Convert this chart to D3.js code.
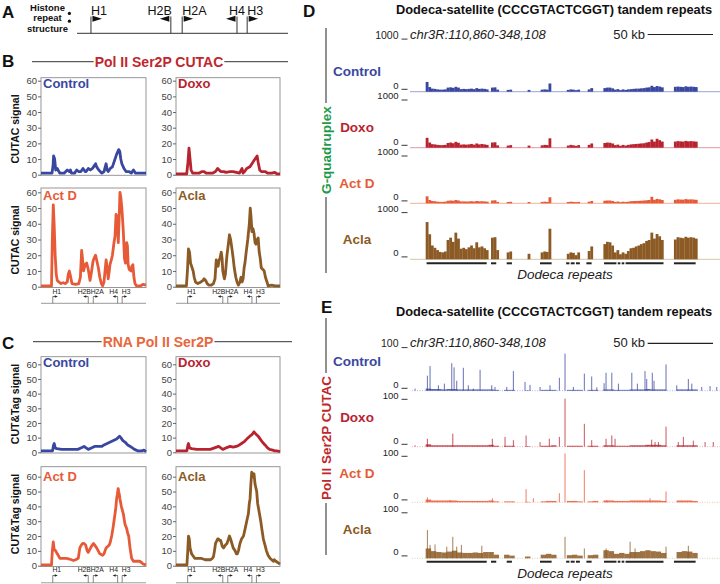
<!DOCTYPE html>
<html><head><meta charset="utf-8">
<script src="https://cdn.jsdelivr.net/npm/d3@7/dist/d3.min.js"></script>
<style>
html,body{margin:0;padding:0;background:#fff;}
svg{display:block;font-family:"Liberation Sans",Arial,Helvetica,sans-serif;}
</style></head><body>
<svg id="fig" width="720" height="584"></svg>
<script>
// ===================== DATA =====================
const trackNames = ["Control", "Doxo", "Act D", "Acla"];
const histoneGenes = ["H1", "H2B", "H2A", "H4", "H3"];
const histonePos = [11.2, 45, 49.8, 73, 77.3];      // position along one histone repeat (0-100)
const histoneDir = [1, -1, 1, -1, 1];               // transcription direction
const signalTicks = [0, 10, 20, 30, 40, 50, 60];

// B: Pol II Ser2P CUTAC signal  [position along repeat, signal]
const bControl = [[0,1],[10.5,1],[11.5,6],[12,12],[13,10],[14,3],[15.5,4],[17,2],[18,1],[22,1],[25,3],[27,2],[28,3],[29,1],[32,1],[34,3],[36,2],[38,2],[40,4],[42,2],[43,2],[45,4],[47,3],[49,4],[50,5],[52,7],[53,5],[55,3],[58,1],[60,2],[62,7],[63,3],[64,2],[66,4],[68,5],[70,9],[72,13],[74,16],[75,15],[76,10],[77,7],[79,4],[81,2],[84,2],[86,1],[88,3],[89,2],[90,1],[100,1]];
const bDoxo = [[0,0.5],[10.3,0.5],[11.5,8],[12.5,17],[13.5,10],[14.5,3],[16,1],[22,1],[25,2],[27,2],[29,1],[35,1],[38,2],[40,4],[41.5,3],[43,2],[46,2],[48,1.5],[52,2],[55,2],[58,1.5],[61,1],[63.5,4],[64.5,1],[66,2],[68,4],[71,5],[73,7],[75,9],[77,11],[78,12],[79,8],[80.5,3],[82,2],[86,2],[88,1],[92,1],[95,1.5],[97,0.5],[100,0.5]];
const bActD = [[0,0.5],[10,0.5],[10.8,30],[11.7,52],[12.5,40],[13.5,20],[14.5,8],[15.5,4],[17,3],[19,2],[21,2.5],[23,2],[25,3],[26,8],[27,10],[28,7],[29.5,2],[33,1.5],[36,2],[37.5,6],[38.7,23],[39.5,18],[40.5,10],[42,14],[43.5,15],[45,11],[46.7,4],[48,9],[49.5,16],[50.5,18],[52,20],[53,17],[54.6,12],[56,6],[57.5,2],[58.7,0.5],[60,3],[61,10],[62,17],[63,12],[64,5],[65,10],[65.7,14],[67,17],[68,20],[69.5,28],[70.5,32],[71.5,46],[72.5,44],[73.6,28],[74.5,45],[75.2,60],[76,57],[77,50],[78.4,35],[79.5,18],[80.5,15],[81.6,28],[82.3,26],[83,14],[84,11],[85.7,10],[86.5,13],[87.5,14],[88.5,6],[89.5,2],[91,0.5],[95,0.5],[97,1.5],[100,1]];
const bAcla = [[0,0.5],[10,0.5],[11,10],[12,24],[13,22],[14,15],[15,13],[16.5,10],[17.5,6],[18.7,3],[21,2],[24,3],[26,4],[27,5],[28.5,4],[30,2],[31.4,1],[34,1],[36,2],[37.5,5],[38.7,17],[39.5,15],[40.5,13],[41.5,17],[42.3,18],[43.5,22],[44.3,18],[45,10],[46.5,5],[47.5,8],[49,20],[50.5,28],[51.4,33],[52.5,30],[53.6,25],[55,18],[56,12],[57.5,6],[58.7,3],[60,1],[61.5,3],[62.5,6],[63.5,3],[64.5,5],[65.5,12],[66.3,15],[67.5,22],[69,30],[70.5,40],[71.4,50],[72.2,44],[73,35],[74,37],[75,34],[76,28],[76.8,27],[78,30],[79,31],[80,22],[81,18],[82,12],[83.5,11],[84.8,10],[86,6],[87.5,3],[88.6,0.5],[92,1],[95,0.5],[100,0.5]];

// C: RNA Pol II Ser2P CUT&Tag signal
const cControl = [[0,1],[11,1],[12,5],[12.6,6],[13.5,3],[15,2.5],[19.6,2],[25,2],[30,2],[35,2],[38,3],[41,4],[43,3],[45,2],[48,3],[51,4],[55,4],[58,4],[60,5],[63,6],[66,7],[69,8],[72,9],[74.8,11],[76,10],[78,8],[80,7],[82.6,5],[85,4],[87,3],[89,2],[92,1],[96,1],[98,1.5],[100,0.5]];
const cDoxo = [[0,1],[10.5,1],[11.5,5],[12,6],[13,3],[15,2.5],[20,2],[25,2],[33,2],[37,3],[41,4],[43,3],[45,2],[48,3],[52,4],[55,3.5],[58,4],[61,5],[63,6],[66,7.5],[68,9],[71,11],[73,12],[75,14],[76,13],[79,11],[81,9],[83,7],[85.6,5],[88,3],[90,2],[93,1.5],[95,1],[97,1],[100,0.5]];
const cActD = [[0,0.5],[10,0.5],[10.8,10],[11.7,16],[12.5,11],[14,10],[15.5,8],[18,5],[21,5],[24.4,5],[27,4.5],[29,4],[31,3.5],[33,4],[35.5,5],[37,12],[38.5,14],[39.7,15],[41,15],[42.5,14],[44,10],[45,9],[46.5,11],[48,13],[50,15],[51,14],[53,12],[54.5,10],[56,8],[58.7,7],[60,8],[62,12],[63.5,13],[65,14],[66,16],[67.3,20],[68.5,25],[69.5,30],[70.5,35],[71.4,40],[72,45],[72.7,48],[73.5,52],[74,50],[74.6,48],[75.2,45],[76.5,40],[78.4,35],[80,28],[81.6,25],[82.5,22],[83.5,20],[84.8,12],[86.3,5],[88,3],[89.5,3],[92,3],[94,3],[96,2],[97.5,1],[100,0.5]];
const cAcla = [[0,0.5],[10.5,0.5],[11.3,10],[12,20],[12.8,18],[13.5,12],[15,8],[16,7],[18,5],[20,5],[24,5],[28,4],[33,4],[35,5],[36,6],[37,10],[38,15],[38.7,16],[40,18],[41,18],[42,17],[43,17],[44.5,13],[45.7,12],[47.5,14],[49,15],[50.5,18],[51.4,20],[52.5,18],[53.7,15],[55,12],[56.9,10],[58,8],[59,8],[60,10],[61.5,15],[63,18],[64.9,20],[66.5,25],[68,30],[69.6,35],[70.5,42],[71.2,45],[72,55],[72.8,63],[73.5,62],[74.2,60],[75,62],[76,55],[77.6,50],[78.5,42],[79.5,38],[81.5,30],[82.5,25],[84,18],[85.5,14],[87,10],[88.5,7],[90.4,5],[92,4],[93.6,3],[94.5,4],[96,3],[98,2],[100,1]];

// D / E: genome browser region
const regionLabel = "chr3R:110,860-348,108";
const regionKb = [0, 237.248];          // kb offsets from 110,860
const scaleBarKb = 50;
const dMax = 1000, eMax = 100;

// D: G-quadruplex signal, 2 kb bins starting at 12 kb
const dBinStart = 12, dBinSize = 2;
const dControl = [190,90,60,55,45,40,40,45,80,85, 75,95,80,50,55,50,55,60,50,70, 55,60,55,45,0,80,85,40,0,0, 0,35,40,0,0,0,0,0,0,35, 0,0,0,0,40,45,40,160,0,0, 0,0,0,0,35,45,40,30,40,0, 0,0,45,70,0,0,0,0,70,80, 80,65,40,50,30,45,35,45,50,55, 60,60,65,70,80,85,115,90,110,100, 85,0,0,0,0,95,100,95,90,105, 95,100,95,90];
const dDoxo = [210,110,75,70,60,55,55,60,100,110, 95,125,105,65,70,65,70,80,65,90, 70,80,70,60,0,110,115,50,0,0, 0,45,55,0,0,0,0,0,0,45, 0,0,0,0,50,60,55,200,0,0, 0,0,0,0,45,60,50,40,55,0, 0,0,60,90,0,0,0,0,100,110, 105,90,55,65,40,60,45,60,70,75, 80,85,90,95,110,120,175,130,190,160, 130,0,0,0,0,130,140,135,130,145, 135,140,135,130];
const dActD = [150,70,50,45,35,30,30,35,55,60, 55,70,60,40,40,38,40,45,38,50, 42,45,40,35,0,60,65,30,0,0, 0,28,32,0,0,0,0,0,0,28, 0,0,0,0,30,35,30,130,0,0, 0,0,0,0,28,35,30,25,30,0, 0,0,35,50,0,0,0,0,55,60, 60,50,30,38,25,35,28,35,45,48, 50,52,55,60,65,70,140,75,95,85, 70,0,0,0,0,75,85,80,78,90, 82,85,80,75];
const dAcla = [810,545,300,250,200,160,150,170,420,470, 380,580,450,230,250,220,260,300,240,370, 260,280,240,200,0,470,480,200,0,0, 0,150,170,0,0,0,0,0,0,120, 0,0,0,0,150,170,160,665,0,0, 0,0,0,0,120,150,140,90,150,0, 0,0,180,280,0,0,0,0,330,380, 370,300,150,200,110,150,120,180,240,250, 280,300,330,350,400,420,580,450,550,500, 420,0,0,0,0,430,480,470,460,490, 470,480,470,450];

// E: Pol II Ser2P CUTAC, background in 4 kb bins + individual spikes [kb, signal]
const eBinStart = 12, eBinSize = 4;
const eControlBase = [5,4,4,3,4,4,3,3,3,3, 3,3,3,2,0,2,2,0,0,1, 0,0,2,2,2,0,0,2,2,2, 0,2,2,0,3,3,2,2,2,3, 3,3,4,3,3,3,0,0,3,3, 3,3];
const eDoxoBase = [5,3,3,3,3,3,3,3,3,3, 3,3,4,2,0,2,2,0,0,1, 0,0,2,2,3,0,0,2,2,2, 0,2,2,0,3,3,2,2,2,3, 3,3,4,4,4,3,0,0,3,3, 3,3];
const eActDBase = [6,4,4,4,4,4,3,3,3,3, 3,3,4,2,0,2,2,0,0,1, 0,0,2,3,3,0,0,3,3,2, 0,2,3,0,4,4,3,3,3,4, 4,4,4,4,4,3,0,0,4,4, 4,3];
const eAclaBase = [22,16,14,13,15,17,13,12,12,13, 12,14,14,8,0,8,6,0,0,4, 0,0,8,10,8,0,0,7,8,6, 0,7,8,0,18,16,10,12,10,14, 14,16,18,16,15,12,0,0,14,16, 15,12];
const eControlSpikes = [[3.8,5],[13.3,36],[15.3,59],[21.7,13],[26.3,17],[31.9,66],[33.7,56],[35.7,24],[40.8,55],[44.6,13],[48.5,5],[53.6,50],[62.5,13],[65,9],[74,9],[79.1,47],[88,21],[91.8,14],[99.5,9],[107.1,13],[114.3,31],[118.6,89],[125,9],[133.4,41],[139,34],[142.9,8],[148.5,18],[150,43],[154.4,43],[159.5,17],[169.7,43],[174,17],[179.8,47],[181.1,28],[185.4,43],[186.7,24],[195.9,63],[204.1,13],[213,28],[215.6,17],[223.2,9],[229.6,11],[234.7,9]];
const eDoxoSpikes = [[3.8,3],[13.3,17],[32.7,28],[63,17],[72.7,21],[79.1,14],[88.8,24],[99.5,10],[106.6,17],[114.3,21],[118.6,103],[133.4,49],[139,14],[150,17],[154.4,24],[156.9,17],[184.9,15],[187.5,10],[190.1,10],[195.9,43],[205.3,10],[209.2,21],[216.8,13],[225.8,10],[232.1,10]];
const eActDSpikes = [[13.3,11],[30.6,5],[63,9],[88.8,29],[94.4,9],[114.3,20],[118.6,108],[133.4,71],[150.5,5],[183.7,9],[195.9,24]];
const eAclaSpikes = [[13.3,63],[15.3,30],[19.1,31],[28.1,26],[32.7,48],[35.7,26],[39.3,30],[54.9,28],[118.6,48],[133.4,22],[150,22],[168.4,37],[172.2,22],[195.9,26],[213,28]];

// Dodeca repeat annotation (kb offsets)
const repeatSegments = [[12.7,58.7],[62,66],[74,78],[99.5,108.4],[119.5,122],[123,126],[127,130],[135,139],[148.5,158],[159,161],[162,164],[165,194],[202,218.6]];

// ===================== DRAWING =====================
const svg = d3.select("#fig");
const FONT = '"Liberation Sans", Arial, Helvetica, sans-serif';
const col = {"Control":"#3a47a0","Doxo":"#b82330","Act D":"#e75a37","Acla":"#8c5a24"};
const lightCol = {"Control":"#9aa3d6","Doxo":"#e39aa2","Act D":"#f3b29c","Acla":"#d6c5a8"};
const titleRed = "#c0272d", titleOrange = "#e8663c", green = "#1e9a4a";

function text(x, y, s, o = {}) {
  return svg.append("text").attr("x", x).attr("y", y).text(s)
    .attr("font-size", o.size || 12).attr("font-weight", o.weight || "normal")
    .attr("font-style", o.style || "normal").attr("fill", o.fill || "#111")
    .attr("text-anchor", o.anchor || "start").attr("font-family", FONT);
}
function hline(x1, x2, y, stroke = "#222", w = 1) {
  return svg.append("line").attr("x1", x1).attr("x2", x2).attr("y1", y).attr("y2", y)
    .attr("stroke", stroke).attr("stroke-width", w);
}
// browser-style scale label: number then a short underscore mark
function scaleMark(y, label, size = 9.5) {
  text(398.5, y, label, {size: size, anchor: "end", fill: "#222"});
  hline(401.5, 407.5, y + 0.6, "#222", 0.9);
}

// ---------- Panel A ----------
text(2, 18, "A", {size: 17, weight: "bold"});
["Histone", "repeat", "structure"].forEach((s, i) =>
  text(47.5, [10.5, 20.5, 32][i], s, {size: 9.5, weight: "bold", anchor: "middle"}));
svg.append("circle").attr("cx", 69.4).attr("cy", 13.4).attr("r", 1.6).attr("fill", "#111");
svg.append("circle").attr("cx", 69.4).attr("cy", 21.2).attr("r", 1.6).attr("fill", "#111");
const xA = d3.scaleLinear().domain([0, 100]).range([64.5, 300.8]);
hline(77, 288, 33.3, "#333", 1);
const aAnchor = ["start", "end", "start", "middle", "start"];
histoneGenes.forEach((g, i) => {
  const x = xA(histonePos[i]), d = histoneDir[i];
  svg.append("line").attr("x1", x).attr("x2", x).attr("y1", 33.3).attr("y2", 16.5).attr("stroke", "#333").attr("stroke-width", 1);
  svg.append("path").attr("d", `M${x + d * 1.5},15.8 L${x + d * 1.5},21.8 L${x + d * 11},18.8 Z`).attr("fill", "#111");
  const lx = aAnchor[i] === "start" ? x : aAnchor[i] === "end" ? x + 1 : x;
  text(lx, 15, g, {size: 12.5, anchor: aAnchor[i]});
});

// ---------- Panels B and C (small line charts) ----------
function panelTitle(letter, ly, title, color, lineY, tx, lineL, lineR) {
  text(2, ly, letter, {size: 17, weight: "bold"});
  const t = text(tx, lineY + 4.8, title, {size: 14, weight: "bold", anchor: "middle", fill: color});
  const w = t.node().getComputedTextLength();
  hline(lineL, tx - w / 2 - 1, lineY, "#333", 1);
  hline(tx + w / 2 + 1, lineR, lineY, "#333", 1);
}
panelTitle("B", 67, "Pol II Ser2P CUTAC", titleRed, 61.7, 159, 32, 288);
panelTitle("C", 349.3, "RNA Pol II Ser2P", titleOrange, 341.7, 158, 33, 292);

function smallChart(b, data, name) {
  const x = d3.scaleLinear().domain([0, 100]).range([b.x0, b.x1]);
  const y = d3.scaleLinear().domain([0, 60]).range([b.y0, b.y60]);
  svg.append("rect").attr("x", b.x0).attr("y", b.top).attr("width", b.x1 - b.x0).attr("height", b.bot - b.top)
    .attr("fill", "none").attr("stroke", "#8c8c8c").attr("stroke-width", 0.9);
  const ax = svg.append("g").attr("transform", `translate(${b.x0},0)`)
    .call(d3.axisLeft(y).tickValues(signalTicks).tickSize(3).tickPadding(1).tickSizeOuter(0));
  ax.select(".domain").remove();
  ax.selectAll("line").attr("stroke", "#666");
  ax.selectAll("text").attr("font-size", 9.5).attr("fill", "#444").attr("font-family", FONT);
  svg.append("path").datum(data)
    .attr("d", d3.line().x(d => x(d[0])).y(d => y(d[1])))
    .attr("fill", "none").attr("stroke", col[name]).attr("stroke-width", 2.8).attr("stroke-linejoin", "round");
  text(b.x0 + 2, b.labelY, name, {size: 13, weight: "bold", fill: col[name]});
  return x;
}
function geneMini(x, labelY, arrowY, lineY) {
  hline(x.range()[0], x.range()[1], lineY, "#9a9a9a", 1);
  histoneGenes.forEach((g, i) => {
    const gx = x(histonePos[i]), d = histoneDir[i];
    svg.append("line").attr("x1", gx).attr("x2", gx).attr("y1", lineY).attr("y2", arrowY).attr("stroke", "#555").attr("stroke-width", 0.7);
    svg.append("line").attr("x1", gx).attr("x2", gx + d * 2.5).attr("y1", arrowY).attr("y2", arrowY).attr("stroke", "#333").attr("stroke-width", 0.7);
    svg.append("path").attr("d", `M${gx + d * 2},${arrowY - 1.3} L${gx + d * 2},${arrowY + 1.3} L${gx + d * 5},${arrowY} Z`).attr("fill", "#222");
    text(gx + d * 4, labelY, g, {size: 6.8, anchor: "middle", fill: "#222"});
  });
}
const bTop = {top: 77.7, bot: 175.3, y0: 174.7, y60: 80.7, labelY: 88.3};
const bBot = {top: 188, bot: 287.5, y0: 286.7, y60: 192.3, labelY: 200};
const cTop = {top: 356.7, bot: 453, y0: 452.3, y60: 364.3, labelY: 366.7};
const cBot = {top: 466.7, bot: 566.5, y0: 565.7, y60: 476.7, labelY: 480.5};
const L = {x0: 41, x1: 146}, R = {x0: 176, x1: 280};
smallChart({...bTop, ...L}, bControl, "Control");
smallChart({...bTop, ...R}, bDoxo, "Doxo");
const xb1 = smallChart({...bBot, ...L}, bActD, "Act D");
const xb2 = smallChart({...bBot, ...R}, bAcla, "Acla");
geneMini(xb1, 293.8, 296.5, 303.3);
geneMini(xb2, 293.8, 296.5, 303.3);
smallChart({...cTop, ...L}, cControl, "Control");
smallChart({...cTop, ...R}, cDoxo, "Doxo");
const xc1 = smallChart({...cBot, ...L}, cActD, "Act D");
const xc2 = smallChart({...cBot, ...R}, cAcla, "Acla");
geneMini(xc1, 572.3, 575.5, 582.8);
geneMini(xc2, 572.3, 575.5, 582.8);

function yTitle(x, y, s) {
  svg.append("text").attr("transform", `translate(${x},${y}) rotate(-90)`).text(s)
    .attr("font-size", 10.5).attr("font-weight", "bold").attr("text-anchor", "middle").attr("fill", "#111").attr("font-family", FONT);
}
yTitle(18.5, 129, "CUTAC signal");
yTitle(18.5, 240, "CUTAC signal");
yTitle(18.5, 404, "CUT&Tag signal");
yTitle(18.5, 514, "CUT&Tag signal");

// ---------- Panels D and E (genome browser) ----------
const xG = d3.scaleLinear().domain(regionKb).range([410, 720]);

function browserHeader(letter, lx, ly, titleY, coordY, maxLabel, barY) {
  text(lx, ly, letter, {size: 17, weight: "bold"});
  text(554, titleY, "Dodeca-satellite (CCCGTACTCGGT) tandem repeats", {size: 12.8, weight: "bold", anchor: "middle"});
  scaleMark(coordY, maxLabel, 10.5);
  text(410, coordY, regionLabel, {size: 13, style: "italic", fill: "#222"});
  const barW = xG(scaleBarKb) - xG(0);
  hline(713 - barW, 713, barY, "#222", 1.2);
  text(645, coordY, "50 kb", {size: 13, anchor: "end", fill: "#222"});
}
function sideLabel(x, y1, y2, cy, s, color) {
  const t = svg.append("text").attr("transform", `translate(${x + 4.8},${cy}) rotate(-90)`).text(s)
    .attr("font-size", 13.5).attr("font-weight", "bold").attr("text-anchor", "middle").attr("fill", color).attr("font-family", FONT);
  const w = t.node().getComputedTextLength();
  svg.append("line").attr("x1", x).attr("x2", x).attr("y1", y1).attr("y2", cy - w / 2 - 3).attr("stroke", "#555").attr("stroke-width", 1.3);
  svg.append("line").attr("x1", x).attr("x2", x).attr("y1", cy + w / 2 + 3).attr("y2", y2).attr("stroke", "#555").attr("stroke-width", 1.3);
}
function repeatsTrack(y, ty) {
  repeatSegments.forEach(s => hline(xG(s[0]), xG(s[1]), y, "#222", 2));
  text(565, ty, "Dodeca repeats", {size: 13.5, style: "italic", anchor: "middle", fill: "#222"});
}

// D
browserHeader("D", 303, 17.3, 14, 38.5, "1000", 34.5);
sideLabel(326, 28, 273, 150, "G-quadruplex", green);
const dTracks = [{top: 40.3, base: 91.7, lab: 75.7}, {top: 100.7, base: 147.7, lab: 131.7}, {top: 156.7, base: 203.3, lab: 188}, {top: 213.3, base: 259.3, lab: 244}];
const dData = [dControl, dDoxo, dActD, dAcla];
dTracks.forEach((t, i) => {
  const name = trackNames[i];
  const y = d3.scaleLinear().domain([0, dMax]).range([t.base, t.top]);
  hline(410, 720, t.base, lightCol[name], 1);
  const bw = xG(dBinSize) - xG(0);
  svg.append("g").selectAll("rect").data(dData[i]).join("rect")
    .attr("x", (v, j) => xG(dBinStart + j * dBinSize)).attr("width", bw + 0.2)
    .attr("y", v => y(v)).attr("height", v => t.base - y(v)).attr("fill", col[name]);
  text(357, t.lab, name, {size: 13.5, weight: "bold", anchor: "middle", fill: col[name]});
  scaleMark(t.base - 3, "0");
  if (i > 0) scaleMark(t.top - 1.3, String(dMax));
});
repeatsTrack(263.3, 278.5);

// E
browserHeader("E", 321, 313.3, 315.5, 347, "100", 343.3);
sideLabel(326, 318, 555, 438, "Pol II Ser2P CUTAC", titleRed);
const eTracks = [{top: 349, base: 390.7, lab: 365.7}, {top: 400, base: 446.7, lab: 421.7}, {top: 457, base: 502.3, lab: 478.3}, {top: 513.5, base: 558.3, lab: 534}];
const eBase = [eControlBase, eDoxoBase, eActDBase, eAclaBase];
const eSpikes = [eControlSpikes, eDoxoSpikes, eActDSpikes, eAclaSpikes];
eTracks.forEach((t, i) => {
  const name = trackNames[i];
  const y = d3.scaleLinear().domain([0, eMax]).range([t.base, t.top]);
  hline(412, 720, t.base, lightCol[name], 0.8).attr("stroke-dasharray", "1,1.5");
  const bw = xG(eBinSize) - xG(0);
  svg.append("g").selectAll("rect").data(eBase[i]).join("rect")
    .attr("x", (v, j) => xG(eBinStart + j * eBinSize)).attr("width", bw + 0.2)
    .attr("y", v => y(v)).attr("height", v => t.base - y(v)).attr("fill", col[name]).attr("opacity", 0.85);
  svg.append("g").selectAll("rect").data(eSpikes[i]).join("rect")
    .attr("x", d => xG(d[0]) - 0.5).attr("width", 1.1)
    .attr("y", d => y(d[1])).attr("height", d => t.base - y(d[1])).attr("fill", col[name]).attr("opacity", 0.7);
  text(357, t.lab, name, {size: 13.5, weight: "bold", anchor: "middle", fill: col[name]});
  scaleMark(t.base - 3, "0");
  if (i > 0) scaleMark(t.top - 1.3, String(eMax));
});
repeatsTrack(561.7, 577.5);
</script>
</body></html>
